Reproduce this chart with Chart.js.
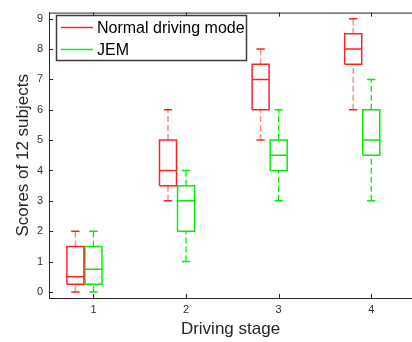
<!DOCTYPE html>
<html>
<head>
<meta charset="utf-8">
<script src="https://cdn.jsdelivr.net/npm/chart.js@4.4.0/dist/chart.umd.min.js"></script>
<style>
  html, body { margin: 0; padding: 0; background: #fff; }
</style>
</head>
<body>
<canvas id="chart" width="412" height="342"></canvas>
<script>
// data
const stages = [1, 2, 3, 4];
const xTicks = [1, 2, 3, 4];
const yTicks = [0, 1, 2, 3, 4, 5, 6, 7, 8, 9];
const seriesNames = ['Normal driving mode', 'JEM'];

const normalMin = [0, 3, 5, 6];
const normalQ1 = [0.25, 3.5, 6, 7.5];
const normalMed = [0.5, 4, 7, 8];
const normalQ3 = [1.5, 5, 7.5, 8.5];
const normalMax = [2, 6, 8, 9];

const jemMin = [0, 1, 3, 3];
const jemQ1 = [0.25, 2, 4, 4.5];
const jemMed = [0.75, 3, 4.5, 5];
const jemQ3 = [1.5, 3.5, 5, 6];
const jemMax = [2, 4, 6, 7];

const FONT = "'Liberation Sans', Arial, sans-serif";
const AXIS_COLOR = '#262626';
const RED = '#ff2424';
const RED_WHISKER = 'rgba(255, 0, 0, 0.45)';
const GREEN = '#00f000';
const BOX_HALF = 0.092;
const CAP_HALF = 0.045;

function buildBoxes(mins, q1s, meds, q3s, maxs, offset) {
  const box = [], median = [], whisker = [], cap = [];
  stages.forEach((s, i) => {
    const c = s + offset;
    const l = c - BOX_HALF, r = c + BOX_HALF;
    box.push({ x: l, y: q1s[i] }, { x: r, y: q1s[i] }, { x: r, y: q3s[i] },
             { x: l, y: q3s[i] }, { x: l, y: q1s[i] }, { x: c, y: null });
    median.push({ x: l, y: meds[i] }, { x: r, y: meds[i] }, { x: c, y: null });
    whisker.push({ x: c, y: q3s[i] }, { x: c, y: maxs[i] }, { x: c, y: null },
                 { x: c, y: mins[i] }, { x: c, y: q1s[i] }, { x: c, y: null });
    cap.push({ x: c - CAP_HALF, y: maxs[i] }, { x: c + CAP_HALF, y: maxs[i] }, { x: c, y: null },
             { x: c - CAP_HALF, y: mins[i] }, { x: c + CAP_HALF, y: mins[i] }, { x: c, y: null });
  });
  return { box, median, whisker, cap };
}

function lineSet(data, color, width, dash) {
  return {
    type: 'line',
    data: data,
    borderColor: color,
    borderWidth: width,
    borderDash: dash || [],
    pointRadius: 0,
    fill: false,
    tension: 0,
    spanGaps: false
  };
}

const normal = buildBoxes(normalMin, normalQ1, normalMed, normalQ3, normalMax, -0.195);
const jem = buildBoxes(jemMin, jemQ1, jemMed, jemQ3, jemMax, 0);

const datasets = [
  lineSet(normal.whisker, RED_WHISKER, 1.5, [6, 3]),
  lineSet(normal.cap, RED, 1.5),
  lineSet(normal.box, RED, 1.5),
  lineSet(normal.median, RED, 1.5),
  lineSet(jem.whisker, GREEN, 1.3, [6, 3]),
  lineSet(jem.cap, GREEN, 1.5),
  lineSet(jem.box, GREEN, 1.5),
  lineSet(jem.median, GREEN, 1.5)
];

// inward ticks, top frame line and the boxed legend
const framePlugin = {
  id: 'frame',
  afterDraw(chart) {
    const ctx = chart.ctx;
    const area = chart.chartArea;
    const xs = chart.scales.x, ys = chart.scales.y;
    ctx.save();
    ctx.strokeStyle = AXIS_COLOR;
    ctx.lineWidth = 1;
    ctx.beginPath();
    ctx.moveTo(area.left, area.top + 0.5);
    ctx.lineTo(area.right, area.top + 0.5);
    xTicks.forEach(v => {
      const px = Math.round(xs.getPixelForValue(v)) + 0.5;
      ctx.moveTo(px, area.bottom);
      ctx.lineTo(px, area.bottom - 4);
      ctx.moveTo(px, area.top);
      ctx.lineTo(px, area.top + 4);
    });
    yTicks.forEach(v => {
      const py = Math.round(ys.getPixelForValue(v)) + 0.5;
      ctx.moveTo(area.left, py);
      ctx.lineTo(area.left + 4, py);
    });
    ctx.stroke();

    // legend
    const lx = 56.5, ly = 15.5, lw = 190, lh = 45;
    ctx.fillStyle = '#fff';
    ctx.fillRect(lx, ly, lw, lh);
    ctx.strokeStyle = '#3c3c3c';
    ctx.lineWidth = 1.5;
    ctx.strokeRect(lx, ly, lw, lh);
    const colors = [RED, GREEN];
    const rows = [27.5, 49.5];
    ctx.font = '16px ' + FONT;
    ctx.textBaseline = 'middle';
    ctx.fillStyle = '#000';
    seriesNames.forEach((name, i) => {
      ctx.strokeStyle = colors[i];
      ctx.lineWidth = 1.5;
      ctx.beginPath();
      ctx.moveTo(61, rows[i]);
      ctx.lineTo(93, rows[i]);
      ctx.stroke();
      ctx.fillText(name, 97, rows[i] + 1);
    });
    ctx.restore();
  }
};

new Chart(document.getElementById('chart'), {
  type: 'line',
  data: { datasets: datasets },
  options: {
    responsive: false,
    animation: false,
    layout: { padding: { top: 10, right: 0, left: 0, bottom: 0 } },
    plugins: { legend: { display: false }, tooltip: { enabled: false } },
    scales: {
      x: {
        type: 'linear',
        min: 0.52,
        max: 4.44,
        afterBuildTicks: s => { s.ticks = xTicks.map(v => ({ value: v })); },
        afterFit: s => { s.height = 44; },
        grid: { display: false, drawTicks: false },
        border: { display: true, color: AXIS_COLOR, width: 1 },
        ticks: { padding: 5, color: '#333', font: { family: FONT, size: 11 } },
        title: {
          display: true,
          text: 'Driving stage',
          color: AXIS_COLOR,
          font: { family: FONT, size: 17 },
          padding: { top: 0, bottom: 2 }
        }
      },
      y: {
        type: 'linear',
        min: -0.2,
        max: 9.2,
        afterBuildTicks: s => { s.ticks = yTicks.map(v => ({ value: v })); },
        afterFit: s => { s.width = 49; },
        grid: { display: false, drawTicks: false },
        border: { display: true, color: AXIS_COLOR, width: 1 },
        ticks: { padding: 6, color: '#333', font: { family: FONT, size: 11 } },
        title: {
          display: true,
          text: 'Scores of 12 subjects',
          color: AXIS_COLOR,
          font: { family: FONT, size: 17 },
          padding: { top: 13, bottom: 0 }
        }
      }
    }
  },
  plugins: [framePlugin]
});
</script>
</body>
</html>
